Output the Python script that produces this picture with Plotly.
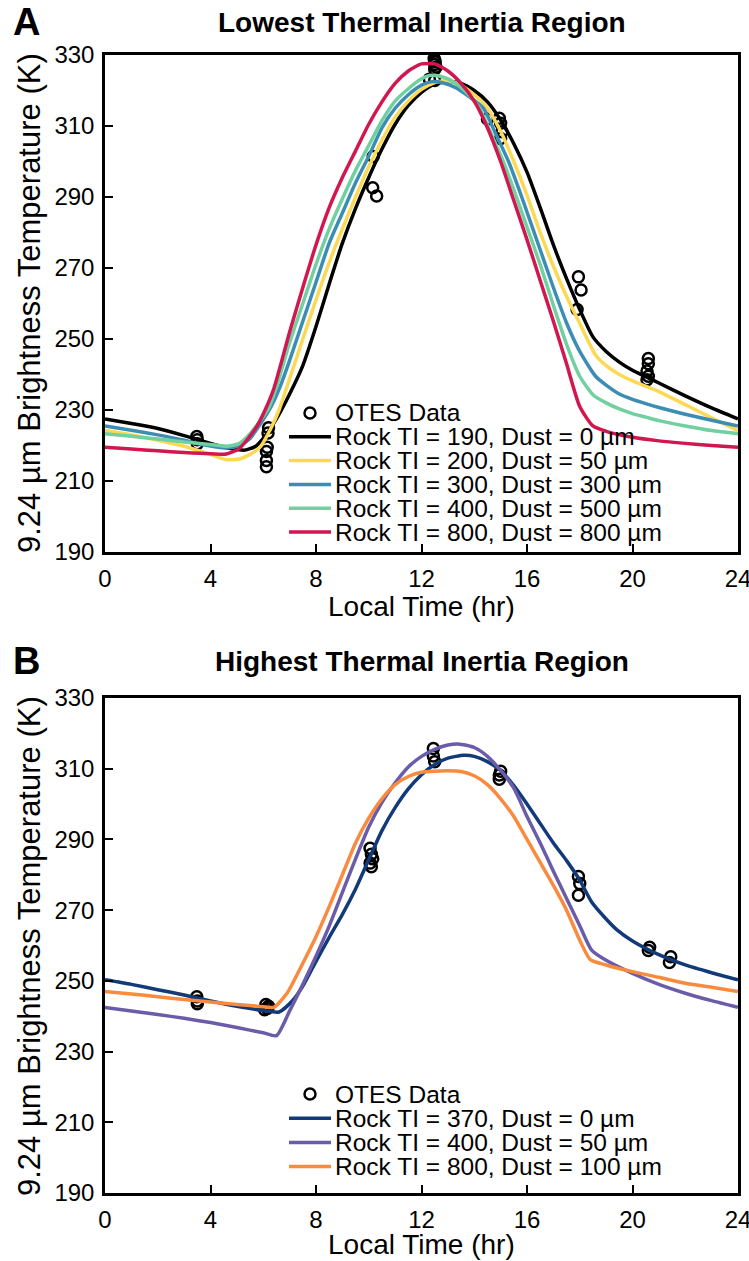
import plotly.graph_objects as go

# ---------------- DATA ----------------
# Panel A: Lowest Thermal Inertia Region
otes_a_hr = [3.48, 3.5, 3.5,
             6.2, 6.18, 6.15, 6.12, 6.12, 6.12,
             10.17, 10.15, 10.3,
             12.3, 12.5, 12.48, 12.5, 12.52, 12.5, 12.55, 12.5,
             14.5, 14.95, 15.0, 15.05, 15.0,
             17.95, 18.05, 17.9,
             20.6, 20.6, 20.55, 20.6, 20.55]
otes_a_temp = [222.5, 221.6, 220.5,
               225.0, 223.5, 219.5, 218.3, 215.8, 214.0,
               301.4, 292.6, 290.3,
               323.2, 322.8, 329.0, 328.5, 328.0, 327.3, 326.6, 326.0,
               312.0, 312.2, 310.8, 308.4, 306.5,
               267.5, 263.8, 258.3,
               244.5, 243.0, 241.0, 239.5, 238.5]

a190_hr = [0, 1, 2, 3, 4, 4.5, 5, 5.3, 5.7, 6, 6.5, 7, 7.5, 8, 8.5, 9, 9.5, 10, 10.5, 11,
           11.5, 12, 12.5, 13, 13.5, 14, 14.5, 15, 15.5, 16, 16.5, 17, 17.5, 18, 18.5, 19,
           19.5, 20, 20.5, 21, 22, 23, 24]
a190_temp = [227.5, 226.2, 224.8, 222.8, 220.6, 219.6, 218.9, 218.7, 219.7, 222.0, 227.5,
             234.5, 242.5, 253.5, 265.5, 277.0, 286.8, 295.5, 303.5, 310.5, 315.8, 319.5,
             321.8, 322.5, 322.0, 320.0, 316.8, 311.7, 305.0, 297.0, 287.0, 276.5, 267.0,
             258.3, 250.6, 246.5, 243.5, 241.2, 239.4, 237.6, 234.0, 230.6, 227.5]

a200_hr = [0, 1, 2, 3, 4, 4.6, 5.1, 5.5, 5.9, 6.3, 6.6, 6.9, 7.5, 8, 8.5, 9, 9.5, 10, 10.5,
           11, 11.5, 12, 12.5, 12.8, 13.2, 13.5, 14, 14.5, 15, 15.5, 16, 16.5, 17, 17.5, 18,
           18.6, 19, 19.5, 20, 20.5, 21, 22, 23, 24]
a200_temp = [224.2, 223.0, 221.5, 219.8, 217.5, 216.0, 216.2, 217.5, 219.7, 225.0, 230.0,
             236.6, 250.0, 261.0, 271.5, 281.0, 290.0, 298.5, 306.0, 312.5, 317.0, 320.3,
             322.2, 322.7, 322.4, 321.5, 318.8, 315.0, 308.5, 300.0, 290.5, 280.0, 270.5,
             262.0, 254.4, 245.5, 242.5, 240.0, 238.2, 236.7, 235.2, 231.5, 227.8, 224.2]

a300_hr = [0, 1, 2, 3, 3.6, 4.6, 5.1, 5.5, 5.9, 6.3, 6.64, 7, 7.5, 8, 8.5, 9, 9.5, 10, 10.5,
           11, 11.5, 12, 12.4, 12.8, 13.3, 13.8, 14.35, 14.8, 15.3, 15.8, 16.2, 16.6, 17,
           17.5, 18, 18.6, 19, 19.5, 20, 20.5, 21, 22, 23, 24]
a300_temp = [225.5, 224.3, 223.0, 221.5, 220.4, 219.3, 220.0, 222.0, 226.2, 231.0, 236.6,
             244.0, 255.0, 266.0, 277.0, 285.5, 294.0, 301.5, 309.5, 315.0, 318.8, 321.5,
             322.5, 322.2, 320.8, 318.3, 315.0, 308.0, 300.0, 290.0, 281.5, 273.0, 264.5,
             254.5, 246.5, 239.5, 237.0, 234.5, 233.0, 231.8, 230.7, 228.8, 227.1, 225.5]

a400_hr = [0, 1, 2, 3, 4, 4.6, 5.1, 5.5, 5.9, 6.2, 6.5, 7, 7.5, 8, 8.5, 9, 9.5, 10, 10.5, 11,
           11.5, 12, 12.3, 12.7, 13.2, 13.7, 14.2, 14.6, 15.1, 15.6, 16, 16.5, 17, 17.5, 18,
           18.5, 19, 19.5, 20, 20.5, 21, 22, 23, 24]
a400_temp = [223.3, 222.6, 221.8, 221.0, 220.3, 219.8, 220.6, 223.3, 227.2, 230.5, 236.5,
             249.0, 260.0, 271.0, 281.0, 289.5, 297.5, 304.5, 311.5, 317.0, 320.5, 323.3,
             324.2, 324.0, 322.5, 319.5, 315.0, 308.5, 300.0, 290.0, 281.5, 271.0, 259.5,
             248.5, 239.5, 234.3, 232.0, 230.3, 229.0, 228.0, 227.0, 225.5, 224.2, 223.3]

a800_hr = [0, 1, 2, 3, 3.6, 4.6, 5.1, 5.75, 6.07, 6.4, 7, 7.5, 8, 8.5, 9, 9.5, 10, 10.5, 11,
           11.5, 12, 12.5, 13, 13.5, 14, 14.5, 15, 15.5, 16, 16.5, 17, 17.5, 18, 18.5, 19,
           20, 21, 22, 23, 24]
a800_temp = [219.5, 219.0, 218.5, 218.0, 217.8, 217.6, 219.2, 225.3, 230.0, 236.0, 252.0,
             264.5, 276.5, 287.0, 295.5, 303.0, 310.5, 316.8, 322.0, 325.5, 327.5, 327.5,
             325.5, 322.0, 317.0, 309.5, 300.0, 289.0, 278.0, 266.5, 255.0, 243.0, 231.0,
             225.5, 224.0, 222.3, 221.3, 220.6, 220.0, 219.5]

# Panel B: Highest Thermal Inertia Region
otes_b_hr = [3.48, 3.5, 3.5,
             6.1, 6.2, 6.05, 6.15,
             10.05, 10.1, 10.15, 10.05, 10.1,
             12.45, 12.45, 12.5,
             15.0, 14.95, 14.95,
             17.95, 18.0, 17.95,
             20.65, 20.6,
             21.45, 21.4]
otes_b_temp = [245.5, 244.3, 243.5,
               243.3, 242.8, 241.8, 242.2,
               287.5, 285.8, 284.5, 283.3, 282.3,
               315.7, 313.6, 312.0,
               309.3, 308.2, 307.0,
               279.5, 277.5, 274.2,
               259.5, 258.6,
               256.8, 255.2]

b370_hr = [0, 1, 2, 3, 4, 5, 6, 6.6, 7.1, 7.5, 8, 8.5, 9, 9.5, 10, 10.5, 11, 11.5, 12, 12.5,
           13, 13.6, 14, 14.5, 15, 15.5, 16, 16.5, 17, 17.5, 18, 18.45, 19, 19.4, 20, 21, 22,
           23, 24]
b370_temp = [250.3, 249.0, 247.5, 246.0, 244.3, 242.8, 241.6, 241.2, 244.3, 248.5, 255.5,
             262.3, 268.8, 276.0, 284.3, 292.5, 299.0, 304.3, 308.3, 311.2, 313.0, 313.8,
             313.5, 312.0, 309.5, 305.2, 300.0, 294.5, 289.0, 284.0, 278.5, 272.3, 267.5,
             264.5, 261.3, 257.4, 254.5, 252.3, 250.3]

b400_hr = [0, 1, 2, 3, 4, 5, 6, 6.5, 7, 7.5, 8, 8.5, 9, 9.5, 10, 10.5, 11, 11.5, 12, 12.5, 13,
           13.4, 14, 14.5, 15, 15.5, 16, 16.5, 17, 17.5, 18, 18.45, 19, 20, 21, 22, 23, 24]
b400_temp = [242.5, 241.5, 240.5, 239.4, 238.2, 236.8, 235.3, 234.5, 241.5, 249.0, 257.0,
             265.5, 275.0, 284.5, 293.5, 300.5, 306.0, 310.5, 313.5, 315.5, 316.7, 317.0,
             316.0, 313.5, 309.5, 304.5, 296.5, 289.0, 281.0, 273.3, 265.6, 258.7, 255.8,
             252.1, 249.0, 246.5, 244.4, 242.5]

b800_hr = [0, 1, 2, 3, 4, 5, 6, 6.4, 6.9, 7.5, 8, 8.5, 9, 9.5, 10, 10.5, 11, 11.5, 12, 12.5,
           13, 13.5, 14, 14.5, 15, 15.5, 16, 16.5, 17, 17.5, 18, 18.4, 19, 20, 21, 22, 23, 24]
b800_temp = [247.0, 246.3, 245.5, 244.7, 244.0, 243.3, 242.7, 242.5, 246.5, 255.0, 262.5,
             271.0, 280.0, 289.0, 296.0, 301.5, 305.5, 307.8, 309.0, 309.3, 309.4, 309.2,
             308.0, 305.5, 301.5, 296.5, 290.0, 283.5, 277.0, 270.0, 261.5, 256.0, 254.5,
             252.6, 251.0, 249.3, 248.2, 247.0]

a_names = ["Rock TI = 190, Dust = 0 µm", "Rock TI = 200, Dust = 50 µm",
           "Rock TI = 300, Dust = 300 µm", "Rock TI = 400, Dust = 500 µm",
           "Rock TI = 800, Dust = 800 µm"]
b_names = ["Rock TI = 370, Dust = 0 µm", "Rock TI = 400, Dust = 50 µm",
           "Rock TI = 800, Dust = 100 µm"]
data_name = "OTES Data"

panel_titles = ["Lowest Thermal Inertia Region", "Highest Thermal Inertia Region"]
panel_letters = ["A", "B"]
x_title = "Local Time (hr)"
y_title = "9.24 µm Brightness Temperature (K)"
x_ticks = [0, 4, 8, 12, 16, 20, 24]
y_ticks = [190, 210, 230, 250, 270, 290, 310, 330]

# ---------------- STYLE ----------------
W, H = 749, 1261
FONT = "Liberation Sans, Arial, Helvetica, sans-serif"
a_colors = ["#000000", "#FCD955", "#3C8DB4", "#70D0A0", "#D2164F"]
b_colors = ["#123A79", "#6B5CAA", "#FA8A3D"]
LW = 3.5


def px(x):
    return x / W


def py(y):
    return 1 - y / H


fig = go.Figure()

a_series = [(a190_hr, a190_temp), (a200_hr, a200_temp), (a300_hr, a300_temp),
            (a400_hr, a400_temp), (a800_hr, a800_temp)]
b_series = [(b370_hr, b370_temp), (b400_hr, b400_temp), (b800_hr, b800_temp)]

marker_style = dict(symbol="circle-open", size=11, color="black", line=dict(width=2.5, color="black"))

fig.add_trace(go.Scatter(x=otes_a_hr, y=otes_a_temp, mode="markers", marker=marker_style,
                         name=data_name, xaxis="x", yaxis="y"))
for (hx, ty), c, n in zip(a_series, a_colors, a_names):
    fig.add_trace(go.Scatter(x=hx, y=ty, mode="lines", name=n,
                             line=dict(color=c, width=LW, shape="spline", smoothing=0.6),
                             xaxis="x", yaxis="y"))

fig.add_trace(go.Scatter(x=otes_b_hr, y=otes_b_temp, mode="markers", marker=marker_style,
                         name=data_name, xaxis="x2", yaxis="y2"))
for (hx, ty), c, n in zip(b_series, b_colors, b_names):
    fig.add_trace(go.Scatter(x=hx, y=ty, mode="lines", name=n,
                             line=dict(color=c, width=LW, shape="spline", smoothing=0.6),
                             xaxis="x2", yaxis="y2"))

xdom = [px(105), px(738)]
ydomA = [py(552), py(55)]
ydomB = [py(1193), py(698)]

axis_common = dict(showline=True, linecolor="black", linewidth=2.5, mirror=True,
                   ticks="inside", ticklen=8, tickwidth=2, tickcolor="black",
                   showgrid=False, zeroline=False, automargin=False,
                   ticklabelstandoff=3, ticklabeloverflow="allow",
                   tickfont=dict(family=FONT, size=24, color="black"))

fig.update_layout(
    width=W, height=H,
    margin=dict(l=0, r=0, t=0, b=0, autoexpand=False),
    paper_bgcolor="white", plot_bgcolor="white",
    showlegend=False,
    font=dict(family=FONT, color="black"),
    xaxis=dict(domain=xdom, range=[0, 24], tickvals=x_ticks, anchor="y", **axis_common),
    yaxis=dict(domain=ydomA, range=[190, 330], tickvals=y_ticks, anchor="x", **axis_common),
    xaxis2=dict(domain=xdom, range=[0, 24], tickvals=x_ticks, anchor="y2", **axis_common),
    yaxis2=dict(domain=ydomB, range=[190, 330], tickvals=y_ticks, anchor="x2", **axis_common),
)

ann = []
shapes = []
# titles and letters
for title, letter, ty in zip(panel_titles, panel_letters, [22, 661]):
    ann.append(dict(x=px(421.5), y=py(ty), xref="paper", yref="paper", text="<b>" + title + "</b>",
                    showarrow=False, xanchor="center", yanchor="middle",
                    font=dict(family=FONT, size=28, color="black")))
    ann.append(dict(x=px(26), y=py(ty), xref="paper", yref="paper", text="<b>" + letter + "</b>",
                    showarrow=False, xanchor="center", yanchor="middle",
                    font=dict(family=FONT, size=38, color="black")))
# axis titles
for xt_y, yt_y in zip([606, 1244], [303, 946]):
    ann.append(dict(x=px(421.5), y=py(xt_y), xref="paper", yref="paper", text=x_title,
                    showarrow=False, xanchor="center", yanchor="middle",
                    font=dict(family=FONT, size=28, color="black")))
    ann.append(dict(x=px(29), y=py(yt_y), xref="paper", yref="paper", text=y_title,
                    textangle=-90, showarrow=False, xanchor="center", yanchor="middle",
                    font=dict(family=FONT, size=31, color="black")))


# legends (drawn manually to match the compact line spacing of the original)
def add_legend(top, step, names, colors):
    cx, r = 310, 5.5
    shapes.append(dict(type="circle", xref="paper", yref="paper",
                       x0=px(cx - r), x1=px(cx + r), y0=py(top + r), y1=py(top - r),
                       line=dict(color="black", width=2.5)))
    ann.append(dict(x=px(333), y=py(top), xref="paper", yref="paper", text=data_name,
                    showarrow=False, xanchor="left", yanchor="middle",
                    font=dict(family=FONT, size=24.5, color="black")))
    for i, (n, c) in enumerate(zip(names, colors)):
        yy = top + step * (i + 1)
        shapes.append(dict(type="line", xref="paper", yref="paper",
                           x0=px(289), x1=px(331), y0=py(yy), y1=py(yy),
                           line=dict(color=c, width=LW)))
        ann.append(dict(x=px(333), y=py(yy), xref="paper", yref="paper", text=n,
                        showarrow=False, xanchor="left", yanchor="middle",
                        font=dict(family=FONT, size=24.5, color="black")))


add_legend(413, 23.8, a_names, a_colors)
add_legend(1094, 24.2, b_names, b_colors)

fig.update_layout(annotations=ann, shapes=shapes)
fig.write_html("out.html",
               config={"displayModeBar": False},
               post_script="document.body.style.margin='0px';document.body.style.padding='0px';"
                           "document.body.style.overflow='hidden';")
